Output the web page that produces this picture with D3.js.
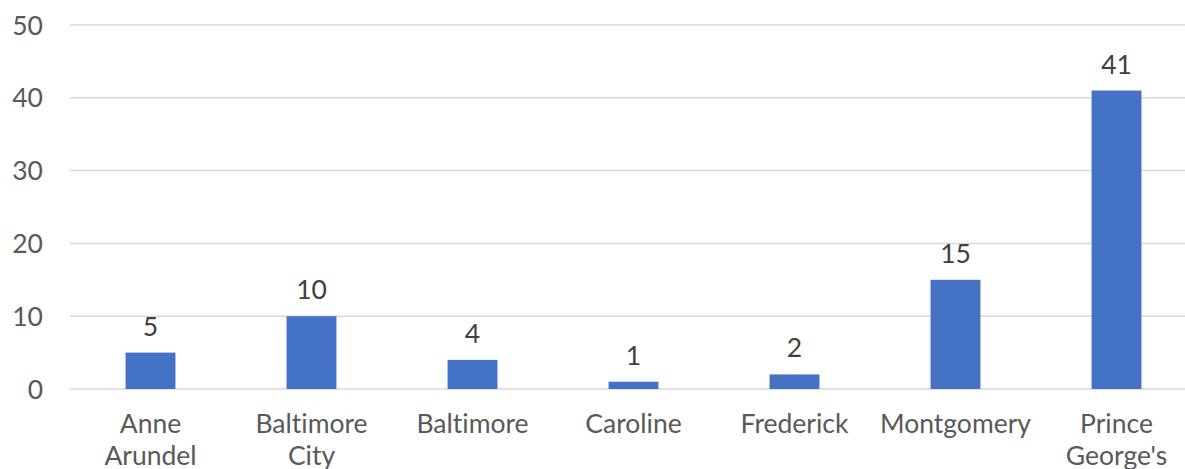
<!DOCTYPE html>
<html><head><meta charset="utf-8">
<script src="https://cdn.jsdelivr.net/npm/d3@7"></script>
<style>body{margin:0;background:#fff}svg{display:block}text{font-family:Lato,"Open Sans",sans-serif;font-variant-ligatures:none}</style>
</head><body><svg id="c" width="1185" height="469"></svg>
<script>
const categories = [["Anne","Arundel"],["Baltimore","City"],["Baltimore"],["Caroline"],["Frederick"],["Montgomery"],["Prince","George's"]];
const values = [5,10,4,1,2,15,41];
const yTicks = [0,10,20,30,40,50];

const svg = d3.select("#c");
const x = d3.scaleBand().domain(d3.range(categories.length)).range([70,1197]).paddingInner(0.69).paddingOuter(0.345);
const y = d3.scaleLinear().domain([0,50]).range([389,25]);
const fs = 26.5;

svg.append("g").selectAll("line").data(yTicks).join("line")
  .attr("x1",70).attr("x2",1185).attr("y1",d=>y(d)).attr("y2",d=>y(d))
  .attr("stroke","#d9d9d9").attr("stroke-width",1.5);

svg.append("g").selectAll("text").data(yTicks).join("text")
  .attr("x",43).attr("y",d=>y(d)+9.5).attr("text-anchor","end")
  .attr("font-size",fs).attr("fill","#595959").text(d=>d);

svg.append("g").selectAll("rect").data(values).join("rect")
  .attr("x",(d,i)=>x(i)).attr("width",x.bandwidth())
  .attr("y",d=>y(d)).attr("height",d=>y(0)-y(d)).attr("fill","#4472c4");

svg.append("g").selectAll("text").data(values).join("text")
  .attr("x",(d,i)=>x(i)+x.bandwidth()/2).attr("y",d=>y(d)-17)
  .attr("text-anchor","middle").attr("font-size",fs).attr("fill","#404040").text(d=>d);

const xl = svg.append("g").selectAll("text").data(categories).join("text")
  .attr("x",(d,i)=>x(i)+x.bandwidth()/2).attr("y",433)
  .attr("text-anchor","middle").attr("font-size",fs).attr("fill","#595959");
xl.selectAll("tspan").data(d=>d).join("tspan")
  .attr("x",function(){return this.parentNode.getAttribute("x");})
  .attr("dy",(d,i)=>i?32:0).text(d=>d);
</script></body></html>
